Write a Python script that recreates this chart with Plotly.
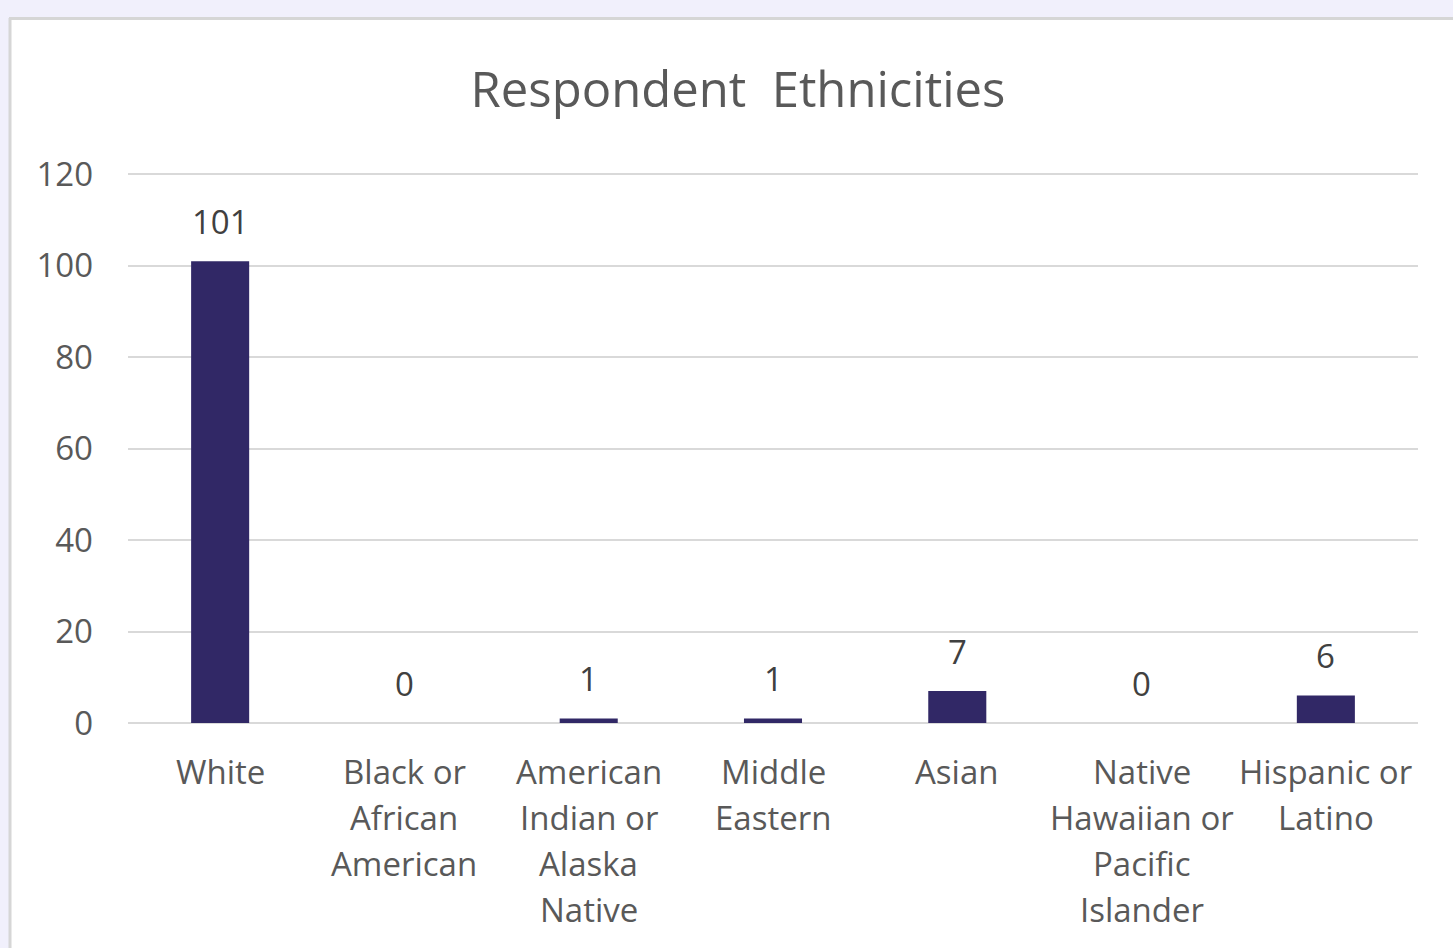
import plotly.graph_objects as go

categories = ["White", "Black or African American", "American Indian or Alaska Native",
              "Middle Eastern", "Asian", "Native Hawaiian or Pacific Islander", "Hispanic or Latino"]
label_lines = [["White"], ["Black or", "African", "American"], ["American", "Indian or", "Alaska", "Native"],
               ["Middle", "Eastern"], ["Asian"], ["Native", "Hawaiian or", "Pacific", "Islander"],
               ["Hispanic or", "Latino"]]
counts = [101, 0, 1, 1, 7, 0, 6]
y_ticks = [0, 20, 40, 60, 80, 100, 120]

W, H = 1453, 948
L, R, T, B = 128, 35, 173, 225
pw, ph = W - L - R, H - T - B

def px(x):
    return (x - L) / pw

def py(y):
    return (H - B - y) / ph

FONT = "Open Sans"
TXT = "#595959"
fig = go.Figure()
fig.add_trace(go.Bar(
    x=categories, y=counts,
    marker=dict(color="#312866", line=dict(width=0)),
    cliponaxis=False, width=0.315,
))

annotations = []
for cat, val in zip(categories, counts):
    annotations.append(dict(x=cat, y=val, xref="x", yref="y", text=str(val), showarrow=False,
                            yanchor="middle", yshift=40,
                            font=dict(family=FONT, size=33, color="#404040")))
for cat, lines in zip(categories, label_lines):
    for i, line in enumerate(lines):
        annotations.append(dict(x=cat, y=0, xref="x", yref="paper", text=line, showarrow=False,
                                yanchor="middle", yshift=-(48 + 46 * i),
                                font=dict(family=FONT, size=33, color=TXT)))

shapes = [
    dict(type="rect", xref="paper", yref="paper", x0=px(0), x1=px(W), y0=py(0), y1=py(18),
         fillcolor="#f1f0fc", line=dict(width=0), layer="below"),
    dict(type="rect", xref="paper", yref="paper", x0=px(0), x1=px(9), y0=py(0), y1=py(H),
         fillcolor="#f1f0fc", line=dict(width=0), layer="below"),
    dict(type="line", xref="paper", yref="paper", x0=px(9), x1=px(W), y0=py(18.5), y1=py(18.5),
         line=dict(color="#d6d6d6", width=3), layer="below"),
    dict(type="line", xref="paper", yref="paper", x0=px(10), x1=px(10), y0=py(18), y1=py(H),
         line=dict(color="#d6d6d6", width=3), layer="below"),
]

fig.update_layout(
    width=W, height=H,
    margin=dict(l=L, r=R, t=T, b=B),
    paper_bgcolor="white", plot_bgcolor="white",
    showlegend=False, shapes=shapes, annotations=annotations,
    title=dict(text="Respondent&nbsp; Ethnicities", x=738 / W, xanchor="center", xref="container",
               y=1 - 90 / H, yanchor="middle", yref="container",
               font=dict(family=FONT, size=49, color=TXT)),
    xaxis=dict(showticklabels=False, showgrid=False, showline=False, ticks="", zeroline=False),
    yaxis=dict(range=[0, 120.3], tickvals=y_ticks, showgrid=True, gridcolor="#d9d9d9", gridwidth=2,
               zeroline=True, zerolinecolor="#d9d9d9", zerolinewidth=2, showline=False, ticks="",
               tickfont=dict(family=FONT, size=33, color=TXT), ticklabelstandoff=34),
)

fig.write_html("out.html")
